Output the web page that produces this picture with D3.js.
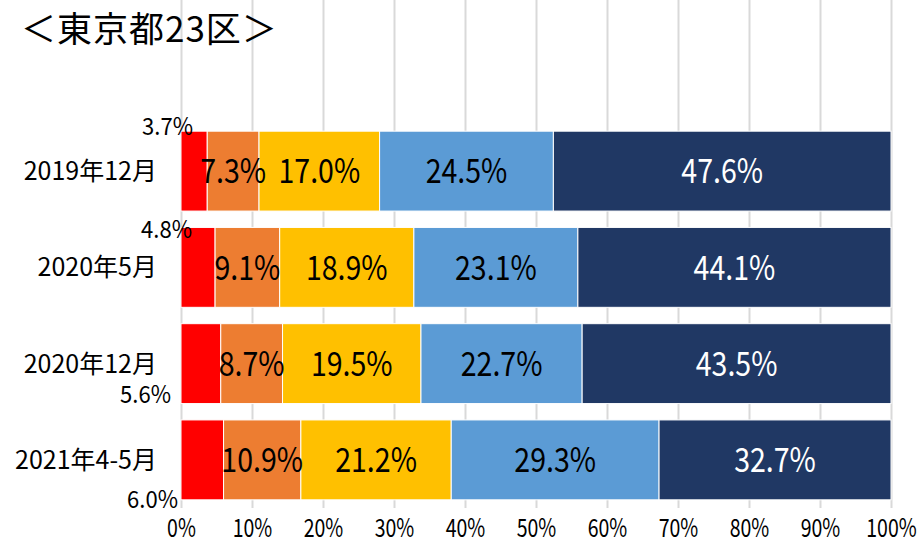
<!DOCTYPE html>
<html>
<head>
<meta charset="utf-8">
<script src="https://cdn.jsdelivr.net/npm/d3@7"></script>
<style>
  html, body { margin: 0; padding: 0; background: #fff; }
  svg { display: block; font-family: "Noto Sans CJK JP", "Noto Sans", sans-serif; }
</style>
</head>
<body>
<svg id="chart" width="918" height="546"></svg>
<script>
// Survey periods (rows, top to bottom)
const categories = ["2019年12月", "2020年5月", "2020年12月", "2021年4-5月"];

// Share of each answer group per period (%), left to right
const seriesA = [3.7, 4.8, 5.6, 6.0];
const seriesB = [7.3, 9.1, 8.7, 10.9];
const seriesC = [17.0, 18.9, 19.5, 21.2];
const seriesD = [24.5, 23.1, 22.7, 29.3];
const seriesE = [47.6, 44.1, 43.5, 32.7];

const seriesKeys = ["A", "B", "C", "D", "E"];
const seriesColors = ["#ff0000", "#ed7d31", "#ffc000", "#5b9bd5", "#203864"];
const labelColors = ["#000", "#000", "#000", "#000", "#fff"];

// Axis ticks
const tickValues = [0, 0.1, 0.2, 0.3, 0.4, 0.5, 0.6, 0.7, 0.8, 0.9, 1.0];
const tickLabels = ["0%", "10%", "20%", "30%", "40%", "50%", "60%", "70%", "80%", "90%", "100%"];

const title = "＜東京都23区＞";

// Rows for d3.stack
const rows = categories.map((c, i) => ({
  category: c,
  A: seriesA[i], B: seriesB[i], C: seriesC[i], D: seriesD[i], E: seriesE[i]
}));

const svg = d3.select("#chart");

const x = d3.scaleLinear().domain([0, 1]).range([181, 891]);
const y = d3.scaleBand().domain(categories).range([123, 508])
  .paddingInner(0.17).paddingOuter(0.085);

const stacked = d3.stack().keys(seriesKeys).offset(d3.stackOffsetExpand)(rows);

// Vertical gridlines + percentage axis
const axis = svg.append("g")
  .attr("transform", "translate(0,508)")
  .call(d3.axisBottom(x).tickValues(tickValues)
    .tickFormat((d, i) => tickLabels[i]).tickSize(-508).tickSizeOuter(0));
axis.select(".domain").remove();
axis.selectAll(".tick line").attr("stroke", "#d9d9d9").attr("stroke-width", 2);
axis.selectAll(".tick text")
  .attr("y", 29).attr("dy", 0)
  .attr("fill", "#000")
  .attr("font-size", 25)
  .attr("font-family", "'Noto Sans CJK JP', sans-serif")
  .attr("transform", "scale(0.78,1)");

// Stacked bar segments
const layers = svg.append("g").selectAll("g")
  .data(stacked).join("g")
  .attr("fill", (d, i) => seriesColors[i]);

layers.selectAll("rect")
  .data(d => d.map(p => Object.assign(p, { key: d.key })))
  .join("rect")
  .attr("x", d => x(d[0]))
  .attr("y", d => y(d.data.category))
  .attr("width", d => x(d[1]) - x(d[0]))
  .attr("height", y.bandwidth())
  .attr("stroke", "#fff")
  .attr("stroke-width", 1);

// Category labels
svg.append("g").selectAll("text")
  .data(categories).join("text")
  .attr("x", 157)
  .attr("y", d => y(d) + y.bandwidth() / 2)
  .attr("dy", "0.36em")
  .attr("text-anchor", "end")
  .attr("font-size", 25)
  .attr("fill", "#000")
  .text(d => d);

// Value labels: centred in segments, except the narrow first segment which sits outside
const fmt = d => d3.format(".1f")(d) + "%";
const rawValues = [seriesA, seriesB, seriesC, seriesD, seriesE];

// Outside placement for first-segment labels: right edge x, and vertical centre relative to bar
const outsideLabel = [
  { right: 193, edge: "top", off: -5 },
  { right: 192, edge: "top", off: 2 },
  { right: 171, edge: "bottom", off: -9 },
  { right: 178, edge: "bottom", off: 0 }
];

const labelG = svg.append("g");
stacked.forEach((layer, si) => {
  layer.forEach((p, ri) => {
    const v = rawValues[si][ri];
    if (si === 0) {
      const o = outsideLabel[ri];
      const top = y(p.data.category);
      const cy = o.edge === "top" ? top + o.off : top + y.bandwidth() + o.off;
      labelG.append("text")
        .attr("transform", `translate(${o.right},${cy}) scale(0.92,1)`)
        .attr("dy", "0.36em")
        .attr("text-anchor", "end")
        .attr("font-size", 24)
        .attr("fill", "#000")
        .text(fmt(v));
    } else {
      const cx = (x(p[0]) + x(p[1])) / 2;
      const cy = y(p.data.category) + y.bandwidth() / 2;
      labelG.append("text")
        .attr("transform", `translate(${cx},${cy}) scale(0.84,1)`)
        .attr("dy", "0.36em")
        .attr("text-anchor", "middle")
        .attr("font-size", 34)
        .attr("fill", labelColors[si])
        .text(fmt(v));
    }
  });
});

// Title
svg.append("text")
  .attr("x", 21)
  .attr("y", 42)
  .attr("font-size", 35)
  .attr("letter-spacing", 1)
  .attr("fill", "#000")
  .text(title);
</script>
</body>
</html>
